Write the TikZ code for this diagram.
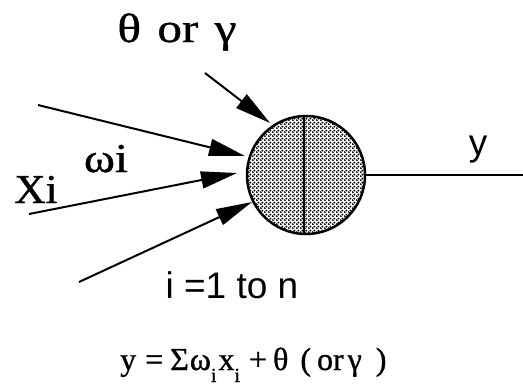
\documentclass[tikz,border=0pt]{standalone}
\usepackage{fontspec}
\setmainfont{Liberation Serif}[FakeBold=0.9]
\newfontfamily\helv{Liberation Sans}
\usetikzlibrary{arrows.meta,patterns.meta}
\tikzdeclarepattern{
  name=neurodots,
  parameters={},
  bounding box={(0pt,0pt) and (4pt,4pt)},
  tile size={(4pt,4pt)},
  code={\fill (1pt,1pt) circle (1.25pt); \fill (3pt,3pt) circle (1.25pt);}
}
\tikzset{
  inarrow/.style={line width=2pt,-{Triangle[length=36pt,width=17pt]}},
  serifbig/.style={font=\fontsize{41}{44}\selectfont, inner sep=0pt, anchor=base},
  sansbig/.style={font=\helv\fontsize{37}{40}\selectfont, inner sep=0pt, anchor=base},
}
\newcommand{\wide}[2][1.18]{\scalebox{#1}[1]{#2}}
\newcommand{\lowsub}[1]{\raisebox{-12pt}{\fontsize{20}{20}\selectfont #1}}
\begin{document}
\begin{tikzpicture}[x=1pt,y=-1pt]
\useasboundingbox (0,0) rectangle (523,389);
\node[circle, draw, line width=2.5pt, minimum size=118pt, inner sep=0pt,
      pattern=neurodots] (neuron) at (306,175) {};
\draw[line width=2.5pt] ([xshift=-2pt]neuron.north) -- ([xshift=-2pt]neuron.south);
% inputs
\coordinate (b0) at (205,73);  \coordinate (b1) at (270,123);
\coordinate (s1) at (38,105);  \coordinate (e1) at (245,156);
\coordinate (s2) at (29,214);  \coordinate (e2) at (237,173);
\coordinate (s3) at (79,282);  \coordinate (e3) at (252,202);
\coordinate (out) at (523,175);
\draw[inarrow] (b0) -- (b1);
\draw[inarrow] (s1) -- (e1);
\draw[inarrow] (s2) -- (e2);
\draw[inarrow] (s3) -- (e3);
\draw[line width=1.5pt] (neuron.east) -- (out);
% labels
\node[serifbig] (bias) at (177,42) {\wide[1.2]{θ\,\,or\,\,γ}};
\node[serifbig] (wi) at (106,172) {\wide[1.15]{ωi}};
\node[serifbig] (xi) at (36,203) {\wide[1.05]{Xi}};
\node[sansbig] (ylab) at (478,155) {y};
\node[sansbig] (range) at (232,298) {i =1 to n};
\node[font=\fontsize{32}{34}\selectfont, inner sep=0pt, anchor=base west] (eq) at (120,370)
  {y\hspace{9pt}=\hspace{7pt}Σ\hspace{1pt}ω\lowsub{i}\hspace{2pt}x\lowsub{i}\hspace{9pt}+\hspace{6pt}θ\hspace{12pt}(\hspace{6pt}or\hspace{4pt}γ\hspace{14pt})};
\end{tikzpicture}
\end{document}
